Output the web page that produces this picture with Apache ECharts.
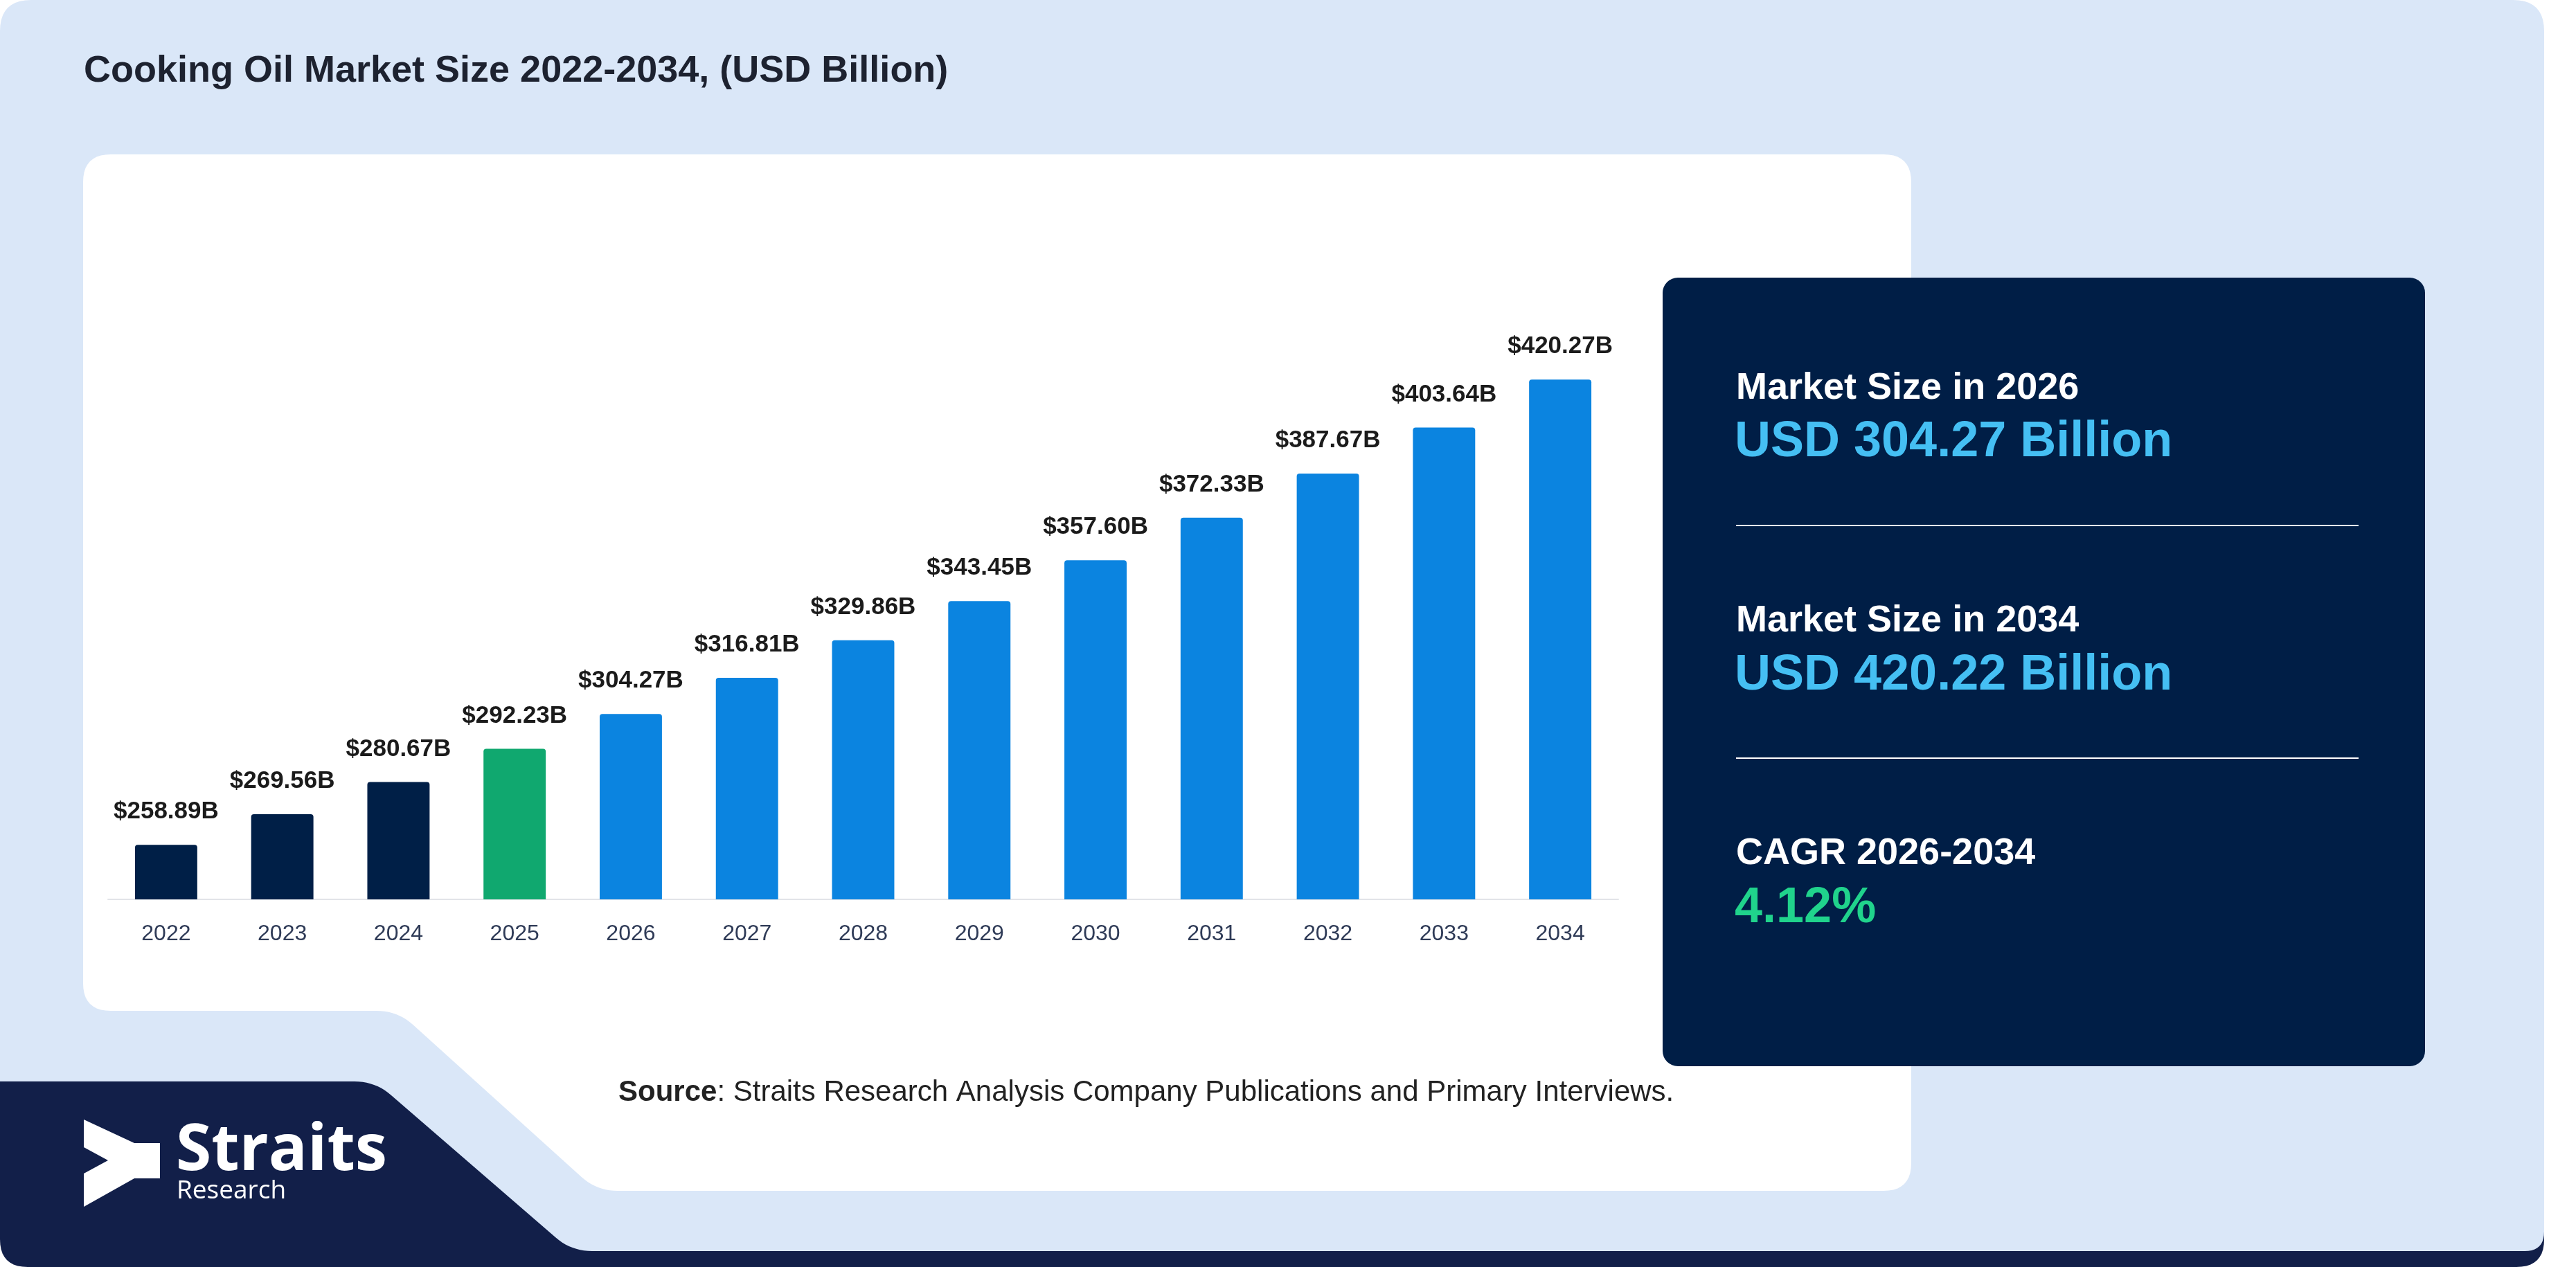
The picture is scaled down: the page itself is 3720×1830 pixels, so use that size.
<!DOCTYPE html>
<html>
<head>
<meta charset="utf-8">
<script src="https://cdn.jsdelivr.net/npm/echarts@6/dist/echarts.min.js"></script>
<style>
html,body{margin:0;padding:0;background:#ffffff;}
#chart{width:3720px;height:1830px;}
</style>
</head>
<body>
<div id="chart"></div>
<script>
const years = ['2022','2023','2024','2025','2026','2027','2028','2029','2030','2031','2032','2033','2034'];
const marketSize = [258.89, 269.56, 280.67, 292.23, 304.27, 316.81, 329.86, 343.45, 357.60, 372.33, 387.67, 403.64, 420.27];
const baseYear = '2025';
const chartTitle = 'Cooking Oil Market Size 2022-2034, (USD Billion)';
const panelItems = [
  ['Market Size in 2026', 'USD 304.27 Billion'],
  ['Market Size in 2034', 'USD 420.22 Billion'],
  ['CAGR 2026-2034', '4.12%']
];

const FONT = "'Liberation Sans', Arial, sans-serif";
const NAVY = '#001e46';
const chart = echarts.init(document.getElementById('chart'));

function barColor(p) {
  const y = years[p.dataIndex];
  if (y === baseYear) return '#10a86f';
  if (y < baseYear) return '#001f47';
  return '#0b84e0';
}

// decorative rounded polygon outline helper (background shapes only)
function roundPoly(corners, radii) {
  const out = [];
  const n = corners.length;
  for (let i = 0; i < n; i++) {
    const P = corners[i], A = corners[(i - 1 + n) % n], B = corners[(i + 1) % n];
    const r = radii[i];
    if (!r) { out.push(P); continue; }
    const da = Math.hypot(A[0] - P[0], A[1] - P[1]), db = Math.hypot(B[0] - P[0], B[1] - P[1]);
    const s = [P[0] + (A[0] - P[0]) / da * r, P[1] + (A[1] - P[1]) / da * r];
    const e = [P[0] + (B[0] - P[0]) / db * r, P[1] + (B[1] - P[1]) / db * r];
    for (let k = 0; k <= 10; k++) {
      const t = k / 10, u = 1 - t;
      out.push([u * u * s[0] + 2 * u * t * P[0] + t * t * e[0], u * u * s[1] + 2 * u * t * P[1] + t * t * e[1]]);
    }
  }
  return out;
}

const graphics = [
  { type: 'polygon', z: -30, silent: true,
    shape: { points: roundPoly([[0,1500],[3674,1500],[3674,1830],[0,1830]], [0,0,40,40]) },
    style: { fill: '#121f49' } },
  { type: 'polygon', z: -29, silent: true,
    shape: { points: roundPoly([[0,0],[3674,0],[3674,1807],[825,1807],[542,1562],[0,1562]], [45,45,28,30,30,0]) },
    style: { fill: '#dae7f8' } },
  { type: 'polygon', z: -28, silent: true,
    shape: { points: roundPoly([[120,223],[2760,223],[2760,1720],[862,1720],[574,1460],[120,1460]], [40,40,40,30,30,40]) },
    style: { fill: '#ffffff' } },
  { type: 'rect', z: -27, silent: true,
    shape: { x: 2401, y: 401, width: 1101, height: 1139, r: 22 },
    style: { fill: NAVY } },
  { type: 'text', z: 10, x: 121, y: 103,
    style: { text: chartTitle, fill: '#1d2230', font: "bold 54px " + FONT, verticalAlign: 'middle' } },
  { type: 'line', z: 10, shape: { x1: 2507, y1: 759, x2: 3406, y2: 759 }, style: { stroke: '#ffffff', lineWidth: 2 } },
  { type: 'line', z: 10, shape: { x1: 2507, y1: 1095, x2: 3406, y2: 1095 }, style: { stroke: '#ffffff', lineWidth: 2 } },
  { type: 'polygon', z: 10,
    shape: { points: [[121,1617],[194,1651],[231,1651],[231,1702],[194,1702],[121,1743],[121,1695],[156,1676],[121,1657]] },
    style: { fill: '#ffffff' } },
  { type: 'text', z: 10, x: 254, y: 1663,
    style: { text: 'Straits', fill: '#ffffff', font: "bold 93px 'Open Sans', sans-serif", verticalAlign: 'middle' } },
  { type: 'text', z: 10, x: 255, y: 1720,
    style: { text: 'Research', fill: '#ffffff', font: "37px 'Open Sans', sans-serif", verticalAlign: 'middle' } },
  { type: 'text', z: 10, x: 893, y: 1578,
    style: { text: '{b|Source}{n|: Straits Research Analysis Company Publications and Primary Interviews.}',
      verticalAlign: 'middle',
      rich: {
        b: { fontWeight: 'bold', fontSize: 42, fontFamily: FONT, fill: '#222222' },
        n: { fontSize: 42, fontFamily: FONT, fill: '#222222' }
      } } }
];

const headY = [561, 897, 1233];
const valY = [639, 976, 1312];
const valColors = ['#45bff3', '#45bff3', '#20d38c'];
panelItems.forEach((it, i) => {
  graphics.push({ type: 'text', z: 10, x: 2507, y: headY[i],
    style: { text: it[0], fill: '#ffffff', font: "bold 54px " + FONT, verticalAlign: 'middle' } });
  graphics.push({ type: 'text', z: 10, x: 2505, y: valY[i],
    style: { text: it[1], fill: valColors[i], font: "bold 72px " + FONT, verticalAlign: 'middle' } });
});

chart.setOption({
  animation: false,
  backgroundColor: 'transparent',
  graphic: graphics,
  grid: { left: 156, right: 1383, top: 466, bottom: 531, containLabel: false },
  xAxis: {
    type: 'category',
    data: years,
    axisLine: { show: true, lineStyle: { color: '#e2e4e8', width: 2 } },
    axisTick: { show: false },
    axisLabel: { fontSize: 32, color: '#2f3b57', margin: 34, fontFamily: FONT }
  },
  yAxis: {
    type: 'value',
    min: 240,
    max: 440,
    show: false,
    splitLine: { show: false }
  },
  series: [{
    type: 'bar',
    data: marketSize,
    barWidth: '53.6%',
    itemStyle: { color: barColor, borderRadius: [4, 4, 0, 0] },
    label: {
      show: true,
      position: 'top',
      distance: 30,
      fontSize: 35,
      fontWeight: 'bold',
      color: '#1b1b1b',
      fontFamily: FONT,
      formatter: p => '$' + p.value.toFixed(2) + 'B'
    }
  }]
});
</script>
</body>
</html>
